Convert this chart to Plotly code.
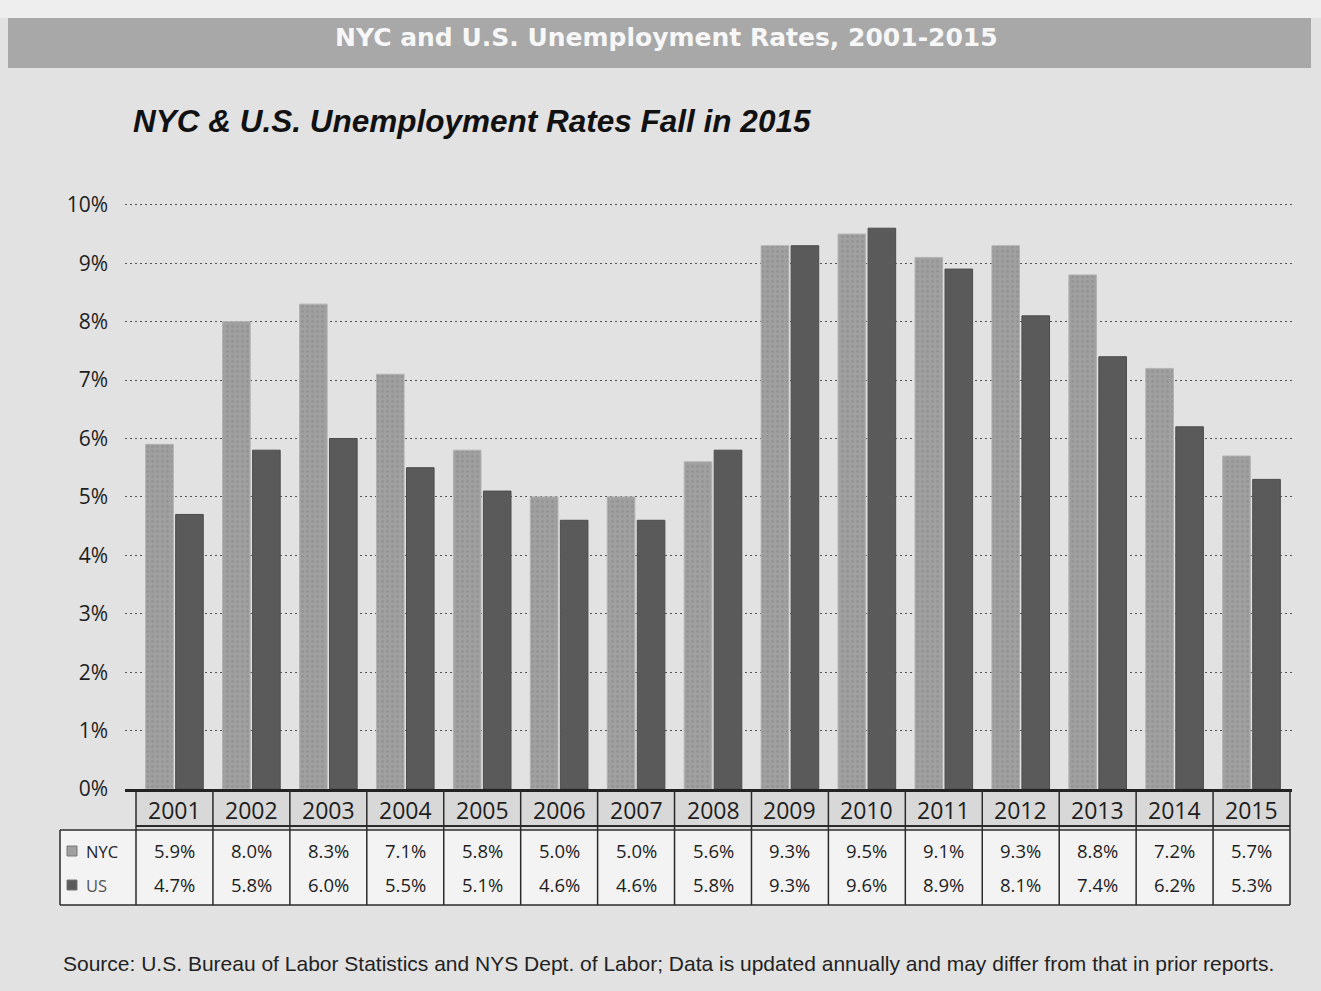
import plotly.graph_objects as go

years = ["2001", "2002", "2003", "2004", "2005", "2006", "2007", "2008",
         "2009", "2010", "2011", "2012", "2013", "2014", "2015"]
nyc_rate = [5.9, 8.0, 8.3, 7.1, 5.8, 5.0, 5.0, 5.6, 9.3, 9.5, 9.1, 9.3, 8.8, 7.2, 5.7]
us_rate = [4.7, 5.8, 6.0, 5.5, 5.1, 4.6, 4.6, 5.8, 9.3, 9.6, 8.9, 8.1, 7.4, 6.2, 5.3]
y_ticks = [0, 1, 2, 3, 4, 5, 6, 7, 8, 9, 10]
y_tick_text = [f"{v}%" for v in y_ticks]

W, H = 1321, 991
NYC_COLOR = "#a0a0a0"
US_COLOR = "#5a5a5a"
PAGE_BG = "#e2e2e2"
TEXT = "#1e1e1e"
TABLE_FONT = "Open Sans"
RULE = "#2a2a2a"


def py(v):
    """pixel row -> paper y"""
    return 1 - v / H


def px(v):
    """pixel column -> paper x"""
    return v / W


fig = go.Figure()

fig.add_trace(go.Bar(
    x=years, y=nyc_rate, name="NYC",
    marker=dict(color=NYC_COLOR, line=dict(color="#b2b2b2", width=1),
                pattern=dict(shape=".", fgcolor="#868686", size=5, solidity=0.25)),
))
fig.add_trace(go.Bar(
    x=years, y=us_rate, name="US",
    marker=dict(color=US_COLOR, line=dict(color="#4c4c4c", width=1)),
))

shapes = []
annotations = []

# lighter strip above the header band, then the band and its title
shapes.append(dict(type="rect", xref="paper", yref="paper", x0=0, x1=1, y0=py(18), y1=1,
                   fillcolor="#eeeeee", line=dict(width=0), layer="below"))
shapes.append(dict(type="rect", xref="paper", yref="paper", x0=px(8), x1=px(1311),
                   y0=py(68), y1=py(18), fillcolor="#a8a8a8", line=dict(width=0), layer="below"))
annotations.append(dict(text="<b>NYC and U.S. Unemployment Rates, 2001-2015</b>",
                        xref="paper", yref="paper", x=px(666), y=py(37),
                        xanchor="center", yanchor="middle", showarrow=False,
                        font=dict(family="DejaVu Sans", size=25, color="#f7f7f7")))

annotations.append(dict(text="<b><i>NYC &amp; U.S. Unemployment Rates Fall in 2015</i></b>",
                        xref="paper", yref="paper", x=px(131), y=py(121),
                        xanchor="left", yanchor="middle", showarrow=False,
                        font=dict(family="Liberation Sans", size=31.5, color="#111111")))

# data table beneath the axis
T_TOP, T_MID, T_BOT = 790, 829, 905
n = len(years)
shapes.append(dict(type="rect", xref="x", yref="paper", x0=-0.5, x1=n - 0.5,
                   y0=py(T_MID), y1=py(T_TOP), fillcolor="#d8d8d8",
                   line=dict(width=0), layer="below"))
shapes.append(dict(type="rect", xref="paper", yref="paper", x0=px(60), x1=px(1290),
                   y0=py(T_BOT), y1=py(T_MID), fillcolor="#f3f3f3",
                   line=dict(width=0), layer="below"))
for yy, w in [(T_MID - 3, 2), (T_MID + 1, 1.5), (T_BOT, 1.5)]:
    shapes.append(dict(type="line", xref="x", yref="paper", x0=-0.5, x1=n - 0.5,
                       y0=py(yy), y1=py(yy), line=dict(color=RULE, width=w)))
for yy in (T_MID + 1, T_BOT):
    shapes.append(dict(type="line", xref="paper", yref="paper", x0=px(60), x1=px(136),
                       y0=py(yy), y1=py(yy), line=dict(color=RULE, width=1.5)))
shapes.append(dict(type="line", xref="paper", yref="paper", x0=px(60), x1=px(60),
                   y0=py(T_BOT), y1=py(T_MID + 1), line=dict(color=RULE, width=1.5)))
for i in range(n + 1):
    shapes.append(dict(type="line", xref="x", yref="paper", x0=i - 0.5, x1=i - 0.5,
                       y0=py(T_BOT), y1=py(T_TOP), line=dict(color=RULE, width=1.5)))

# table cells are placed on the category index of the x axis
for i, yr in enumerate(years):
    annotations.append(dict(text=yr, xref="x", yref="paper", x=i, y=py(810),
                            xanchor="center", yanchor="middle", showarrow=False,
                            font=dict(family=TABLE_FONT, size=23, color=TEXT)))
    annotations.append(dict(text=f"{nyc_rate[i]:.1f}%", xref="x", yref="paper", x=i, y=py(850),
                            xanchor="center", yanchor="middle", showarrow=False,
                            font=dict(family=TABLE_FONT, size=18.5, color=TEXT)))
    annotations.append(dict(text=f"{us_rate[i]:.1f}%", xref="x", yref="paper", x=i, y=py(884),
                            xanchor="center", yanchor="middle", showarrow=False,
                            font=dict(family=TABLE_FONT, size=18.5, color=TEXT)))

# legend keys inside the table
for name, yc, col in [("NYC", 851, NYC_COLOR), ("US", 885, US_COLOR)]:
    shapes.append(dict(type="rect", xref="paper", yref="paper", x0=px(67), x1=px(77),
                       y0=py(yc + 5), y1=py(yc - 5), fillcolor=col,
                       line=dict(color="#777777", width=1)))
    annotations.append(dict(text=name, xref="paper", yref="paper", x=px(84), y=py(yc),
                            xanchor="left", yanchor="middle", showarrow=False,
                            font=dict(family=TABLE_FONT, size=16.5,
                                      color="#222222" if name == "NYC" else "#555555")))

annotations.append(dict(
    text="Source: U.S. Bureau of Labor Statistics and NYS Dept. of Labor; "
         "Data is updated annually and may differ from that in prior reports.",
    xref="paper", yref="paper", x=px(61), y=py(963), xanchor="left", yanchor="middle",
    showarrow=False, font=dict(family="Liberation Sans", size=21, color="#222222")))

cat_w = (1290 - 136) / n
x_left = -0.5 - (136 - 125) / cat_w
x_right = n - 0.5 + (1292 - 1290) / cat_w

fig.update_layout(
    width=W, height=H, autosize=False,
    margin=dict(l=0, r=0, t=0, b=0, pad=0),
    paper_bgcolor=PAGE_BG, plot_bgcolor=PAGE_BG,
    showlegend=False,
    barmode="group", bargap=0.22, bargroupgap=0.08,
    shapes=shapes, annotations=annotations,
    xaxis=dict(domain=[px(125), px(1292)], range=[x_left, x_right], automargin=False,
               showticklabels=False, ticks="", showgrid=False,
               showline=True, linecolor="#222222", linewidth=3, zeroline=False,
               fixedrange=True),
    yaxis=dict(domain=[py(789), py(199)], range=[0, 10.1], automargin=False,
               tickmode="array", tickvals=y_ticks, ticktext=y_tick_text, ticks="",
               tickfont=dict(family=TABLE_FONT, size=21, color=TEXT),
               ticklabelstandoff=16,
               showgrid=True, gridcolor="#555555", griddash="2px,3px", gridwidth=1,
               zeroline=False, showline=False, fixedrange=True),
)

fig.write_html("out.html")
